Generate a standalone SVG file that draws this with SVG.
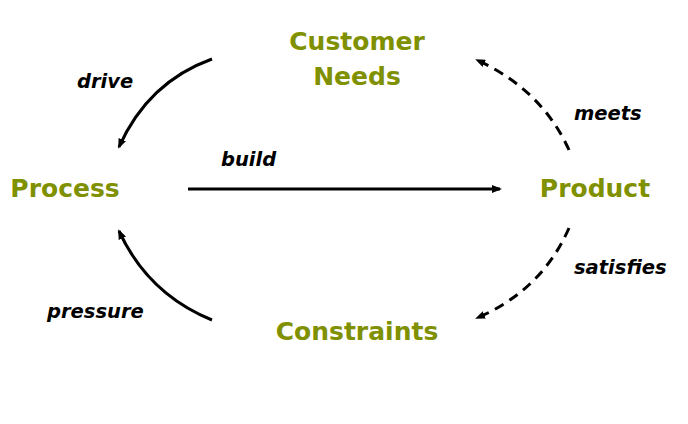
<svg xmlns="http://www.w3.org/2000/svg" width="688" height="424" viewBox="0 0 688 424">
<style>
.node{font-family:"DejaVu Sans","Liberation Sans",sans-serif;font-weight:bold;font-size:25px;fill:#7f9000;text-anchor:middle}
.lbl{font-family:"DejaVu Sans","Liberation Sans",sans-serif;font-weight:bold;font-style:italic;font-size:19.5px;fill:#000}
.c{fill:none;stroke:#000;stroke-width:3}
.d{stroke-dasharray:10,7}
</style>
<defs>
<marker id="ah" markerWidth="10" markerHeight="8" refX="8" refY="4" orient="auto" markerUnits="userSpaceOnUse">
<path d="M0,0 L10,4 L0,8 Z" fill="#000"/>
</marker>
</defs>
<rect width="688" height="424" fill="#fff"/>
<g id="connectors">
<path class="c" d="M212,59 Q148,82 119,147" marker-end="url(#ah)"/>
<path class="c d" d="M569,150 Q542,90 477,60" marker-end="url(#ah)"/>
<path class="c" d="M188,189 L500,189" marker-end="url(#ah)"/>
<path class="c d" d="M569,228 Q542,290 477,318" marker-end="url(#ah)"/>
<path class="c" d="M212,320 Q148,294 119,231" marker-end="url(#ah)"/>
</g>
<g id="customer-needs"><text class="node" x="357" y="50">Customer</text><text class="node" x="357" y="85">Needs</text></g>
<g id="process"><text class="node" x="65" y="197">Process</text></g>
<g id="product"><text class="node" x="595" y="197">Product</text></g>
<g id="constraints"><text class="node" x="357" y="340">Constraints</text></g>
<g id="labels">
<text class="lbl" x="77" y="88">drive</text>
<text class="lbl" x="574" y="120">meets</text>
<text class="lbl" x="221" y="166">build</text>
<text class="lbl" x="574" y="274">satisfies</text>
<text class="lbl" x="47" y="318">pressure</text>
</g>
</svg>
